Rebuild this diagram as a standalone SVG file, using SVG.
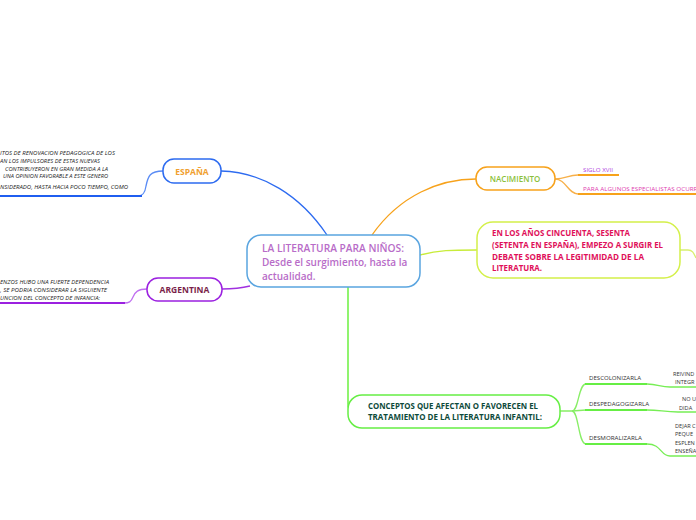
<svg xmlns="http://www.w3.org/2000/svg" width="696" height="520" viewBox="0 0 696 520">
<style>
text{font-family:"Open Sans","Noto Sans","Liberation Sans",sans-serif}
.node{fill:#fff;stroke-width:1.5}
.c{fill:none;stroke-width:1.3}
.sm{font-size:5.6px;font-style:italic;fill:#222}
.br{font-size:5.6px;fill:#333}
</style>
<rect width="696" height="520" fill="#fff"/>
<g id="connectors">
  <path class="c" d="M327,235 C300,195 262,172 221,171" stroke="#2d6bf0"/>
  <path class="c" d="M163,171 C150,171 148,176 146,186 C145,193 143,196 138,196" stroke="#5a8cf5"/>
  <path d="M0,196 L142,196" stroke="#1f5ef0" stroke-width="2" fill="none"/>
  <path class="c" d="M372,235 C400,195 440,179 476,179" stroke="#f7a21b"/>
  <path class="c" d="M555,179 C566,179 568,175 578,175" stroke="#f7b04a"/>
  <path class="c" d="M555,179 C566,179 568,194 578,194" stroke="#f7b04a"/>
  <path d="M578,175 L619,175" stroke="#f7a21b" stroke-width="1.8" fill="none"/>
  <path d="M578,194 L696,194" stroke="#f7a21b" stroke-width="1.8" fill="none"/>
  <path class="c" d="M250,286 C238,289 232,289 222,289" stroke="#a030e0"/>
  <path class="c" d="M147,289 C138,289 135,292 133,297 C131,302 129,303 124,303" stroke="#c070f0"/>
  <path d="M0,303 L125,303" stroke="#9b20e0" stroke-width="2" fill="none"/>
  <path class="c" d="M420,255 C440,250 450,250 477,250" stroke="#c8ec3a"/>
  <path class="c" d="M680,250 L688,250 C693,250 694,254 696,258" stroke="#d8f070"/>
  <path class="c" d="M348,287 L348,404 C348,409 349,411 352,411" stroke="#55ee22" stroke-width="1.6"/>
  <path class="c" d="M560,411 L572,411 C579,411 578,384 586,384" stroke="#88ee66"/>
  <path class="c" d="M572,411 L586,410" stroke="#88ee66"/>
  <path class="c" d="M572,411 C579,411 578,444 586,444" stroke="#88ee66"/>
  <path d="M585,384 L647,384 M585,410 L647,410 M585,444 L647,444" stroke="#66ee44" stroke-width="2" fill="none"/>
  <path class="c" d="M647,384 C658,384 660,387 670,387 L696,387" stroke="#77ee55"/>
  <path class="c" d="M647,410 C660,410 664,412 678,412 L696,412" stroke="#77ee55"/>
  <path class="c" d="M647,444 C662,444 660,456 670,456 L696,456" stroke="#77ee55"/>
</g>
<g id="central">
  <rect class="node" x="247" y="235" width="173" height="52" rx="14" stroke="#5aa5e0"/>
  <text x="262" y="252" font-size="10" font-weight="600" fill="#b86cc8" textLength="142" lengthAdjust="spacingAndGlyphs">LA LITERATURA PARA NIÑOS:</text>
  <text x="262" y="266" font-size="10" font-weight="600" fill="#b86cc8">Desde el surgimiento, hasta la</text>
  <text x="262" y="280" font-size="10" font-weight="600" fill="#b86cc8">actualidad.</text>
</g>
<g id="espana">
  <rect class="node" x="163" y="159" width="58" height="24" rx="11" stroke="#2d6bf0"/>
  <text x="192" y="174.5" font-size="8.5" font-weight="700" fill="#f0a030" text-anchor="middle">ESPAÑA</text>
</g>
<g id="espana-text">
  <text class="sm" x="0" y="155" textLength="115" lengthAdjust="spacingAndGlyphs">ITOS DE RENOVACION PEDAGOGICA DE LOS</text>
  <text class="sm" x="0" y="163" textLength="100" lengthAdjust="spacingAndGlyphs">AN LOS IMPULSORES DE ESTAS NUEVAS</text>
  <text class="sm" x="5" y="170.5" textLength="103" lengthAdjust="spacingAndGlyphs">CONTRIBUYERON EN GRAN MEDIDA A LA</text>
  <text class="sm" x="3" y="177.5" textLength="105" lengthAdjust="spacingAndGlyphs">UNA OPINION FAVORABLE A ESTE GENERO</text>
  <text class="sm" x="0" y="189" textLength="128" lengthAdjust="spacingAndGlyphs">NSIDERADO, HASTA HACIA POCO TIEMPO, COMO</text>
</g>
<g id="argentina">
  <rect class="node" x="147" y="278" width="75" height="23" rx="11" stroke="#9b20e0"/>
  <text x="184.5" y="293" font-size="8.5" font-weight="700" fill="#7a1f4a" text-anchor="middle">ARGENTINA</text>
</g>
<g id="argentina-text">
  <text class="sm" x="0" y="284" textLength="109" lengthAdjust="spacingAndGlyphs">ENZOS HUBO UNA FUERTE DEPENDENCIA</text>
  <text class="sm" x="0" y="292" textLength="107" lengthAdjust="spacingAndGlyphs">, SE PODRIA CONSIDERAR LA SIGUIENTE</text>
  <text class="sm" x="0" y="300" textLength="100" lengthAdjust="spacingAndGlyphs">UNCION DEL CONCEPTO DE INFANCIA:</text>
</g>
<g id="nacimiento">
  <rect class="node" x="476" y="167" width="79" height="23" rx="11" stroke="#f7a21b"/>
  <text x="515" y="182" font-size="8" font-weight="600" fill="#8bbf3a" text-anchor="middle">NACIMIENTO</text>
</g>
<g id="siglo">
  <text class="br" x="583" y="172" fill="#b040e0" style="fill:#b040e0" textLength="30" lengthAdjust="spacingAndGlyphs">SIGLO XVII</text>
</g>
<g id="para-algunos">
  <text class="br" x="583" y="191" style="fill:#e040b0" textLength="118" lengthAdjust="spacingAndGlyphs">PARA ALGUNOS ESPECIALISTAS OCURRE</text>
</g>
<g id="debate">
  <rect class="node" x="477" y="222" width="203" height="56" rx="16" stroke="#d4f04a"/>
  <text x="492" y="236" font-size="8" font-weight="700" fill="#e0105a" textLength="138" lengthAdjust="spacingAndGlyphs">EN LOS AÑOS CINCUENTA, SESENTA</text>
  <text x="492" y="248" font-size="8" font-weight="700" fill="#e0105a" textLength="171" lengthAdjust="spacingAndGlyphs">(SETENTA EN ESPAÑA), EMPEZO A SURGIR EL</text>
  <text x="492" y="260" font-size="8" font-weight="700" fill="#e0105a" textLength="152" lengthAdjust="spacingAndGlyphs">DEBATE SOBRE LA LEGITIMIDAD DE LA</text>
  <text x="492" y="271" font-size="8" font-weight="700" fill="#e0105a" textLength="50" lengthAdjust="spacingAndGlyphs">LITERATURA.</text>
</g>
<g id="conceptos">
  <rect class="node" x="348" y="395" width="212" height="33" rx="14" stroke="#66ee44"/>
  <text x="368" y="409" font-size="8" font-weight="700" fill="#0d4a3a" textLength="170" lengthAdjust="spacingAndGlyphs">CONCEPTOS QUE AFECTAN O FAVORECEN EL</text>
  <text x="368" y="420" font-size="8" font-weight="700" fill="#0d4a3a" textLength="174" lengthAdjust="spacingAndGlyphs">TRATAMIENTO DE LA LITERATURA INFANTIL:</text>
</g>
<g id="descolonizarla">
  <text class="br" x="589" y="380" textLength="52" lengthAdjust="spacingAndGlyphs">DESCOLONIZARLA</text>
</g>
<g id="despedagogizarla">
  <text class="br" x="589" y="406" textLength="60" lengthAdjust="spacingAndGlyphs">DESPEDAGOGIZARLA</text>
</g>
<g id="desmoralizarla">
  <text class="br" x="589" y="440" textLength="53" lengthAdjust="spacingAndGlyphs">DESMORALIZARLA</text>
</g>
<g id="reivind">
  <text class="br" x="673" y="376">REIVIND</text>
  <text class="br" x="675" y="384">INTEGR</text>
</g>
<g id="no-u">
  <text class="br" x="682" y="401">NO U</text>
  <text class="br" x="679" y="410">DIDA</text>
</g>
<g id="dejar">
  <text class="br" x="675" y="428">DEJAR C</text>
  <text class="br" x="675" y="436">PEQUE</text>
  <text class="br" x="675" y="445">ESPLEN</text>
  <text class="br" x="675" y="453">ENSEÑA</text>
</g>
</svg>
